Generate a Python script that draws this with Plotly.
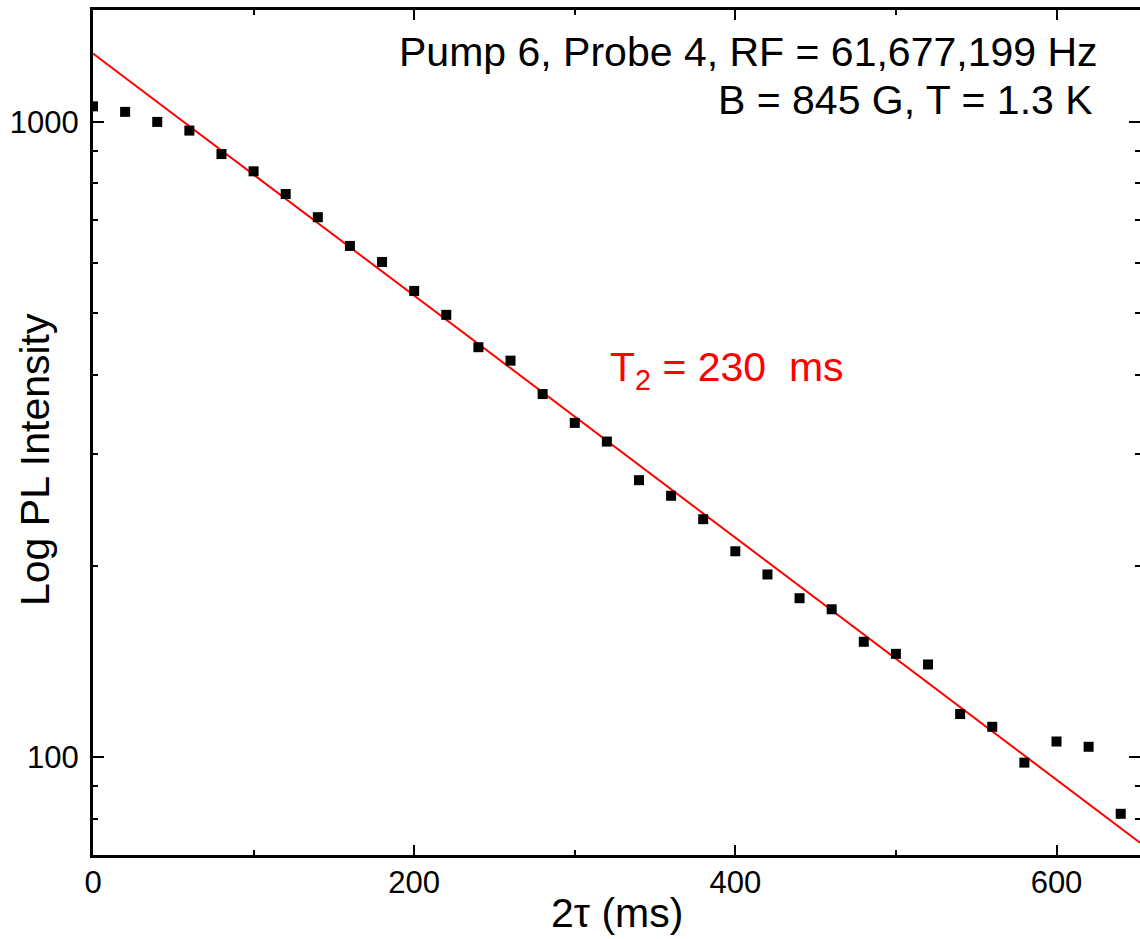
import plotly.graph_objects as go

tau = [0, 20, 40, 60, 80, 100, 120, 140, 160, 180, 200, 220, 240, 260, 280, 300, 320,
       340, 360, 380, 400, 420, 440, 460, 480, 500, 520, 540, 560, 580, 600, 620, 640]
intensity = [1058, 1037, 1000, 969, 890, 836, 770, 708, 638, 602, 542, 497, 442, 421, 373, 336, 314,
             273, 258, 237, 211, 194, 178, 171, 152, 145.5, 140, 117, 111.7, 98.1, 105.9, 103.9, 81.5]

fit_tau = [0, 652]
fit_intensity = [1281, 73.4]

y_major = [100, 1000]
y_minor = [80, 90, 200, 300, 400, 500, 600, 700, 800, 900]

fig = go.Figure()
fig.add_trace(go.Scatter(x=fit_tau, y=fit_intensity, mode='lines',
                         line=dict(color='#ff0000', width=2), showlegend=False))
fig.add_trace(go.Scatter(x=tau, y=intensity, mode='markers', yaxis='y2',
                         marker=dict(symbol='square', size=10, color='black'),
                         showlegend=False))

yrange = [1.8463, 3.1761]

fig.update_layout(
    width=1140, height=939,
    margin=dict(l=93, r=0, t=10, b=84),
    plot_bgcolor='white', paper_bgcolor='white',
    font=dict(family="Liberation Sans, Arial, sans-serif", size=31, color='black'),
    xaxis=dict(
        range=[0, 652], showline=True, linecolor='black', linewidth=3, mirror='ticks',
        showgrid=False, zeroline=False, automargin=False,
        ticks='inside', ticklen=10, tickwidth=2, tickcolor='black',
        dtick=200, tick0=0, ticklabelstandoff=-2,
        minor=dict(dtick=100, ticks='inside', ticklen=5, tickwidth=2, tickcolor='black'),
    ),
    yaxis=dict(
        type='log', range=yrange, showline=True, linecolor='black', linewidth=3,
        showgrid=False, zeroline=False, automargin=False,
        ticks='inside', ticklen=11, tickwidth=2, tickcolor='black',
        tickvals=y_major, ticktext=['100', '1000'], ticklabelstandoff=5,
        minor=dict(tickvals=y_minor, ticks='inside', ticklen=5, tickwidth=2, tickcolor='black'),
    ),
    yaxis2=dict(
        type='log', range=yrange, overlaying='y', side='right', showline=False,
        showgrid=False, zeroline=False, showticklabels=False, automargin=False,
        ticks='inside', ticklen=11, tickwidth=2, tickcolor='black',
        tickvals=y_major,
        minor=dict(tickvals=y_minor, ticks='inside', ticklen=5, tickwidth=2, tickcolor='black'),
    ),
)

fig.add_annotation(text="2τ (ms)", xref='paper', yref='paper',
                   x=(617 - 93) / 1047, y=(855 - 913) / 845, xanchor='center', yanchor='middle',
                   showarrow=False, font=dict(size=41))
fig.add_annotation(text="Log PL Intensity", xref='paper', yref='paper', textangle=-90,
                   x=(35 - 93) / 1047, y=(855 - 460) / 845, xanchor='center', yanchor='middle',
                   showarrow=False, font=dict(size=41))
fig.add_annotation(text="Pump 6, Probe 4, RF = 61,677,199 Hz", xref='paper', yref='paper',
                   x=(1100 - 93) / 1047, y=(855 - 52) / 845, xanchor='right', yanchor='middle',
                   showarrow=False, font=dict(size=41))
fig.add_annotation(text="B = 845 G, T = 1.3 K", xref='paper', yref='paper',
                   x=(1095 - 93) / 1047, y=(855 - 100) / 845, xanchor='right', yanchor='middle',
                   showarrow=False, font=dict(size=41))
fig.add_annotation(text="T<sub>2</sub>\u00a0= 230\u00a0 ms", xref='paper', yref='paper',
                   x=(608 - 93) / 1047, y=(855 - 370) / 845, xanchor='left', yanchor='middle',
                   showarrow=False, font=dict(size=41, color='#ff0000'))

# drop the default body margin so the figure fills the window exactly
fig.write_html("out.html", config={'displayModeBar': False},
               post_script="document.body.style.margin='0';document.body.style.overflow='hidden';")
